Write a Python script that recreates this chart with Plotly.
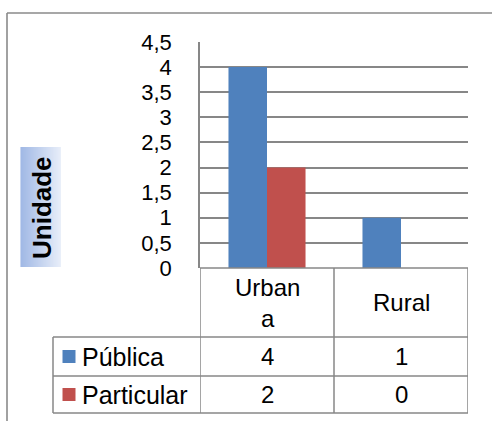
import plotly.graph_objects as go

# ---- data ----
categories = ["Urbana", "Rural"]
category_labels = ["Urban<br>a", "Rural"]
series_names = ["Pública", "Particular"]
publica = [4, 1]
particular = [2, 0]
series_values = [publica, particular]
series_colors = ["#4F81BD", "#C0504D"]
y_title = "Unidade"

W, H = 492, 421
FONT = "Arial, Liberation Sans, sans-serif"
FS = 24
GRID = "#878787"


def px(x):
    return x / W


def py(y):
    return 1 - y / H


fig = go.Figure()
for name, vals, col in zip(series_names, series_values, series_colors):
    fig.add_trace(go.Bar(x=categories, y=vals, name=name, marker_color=col,
                         marker_line_width=0, showlegend=False))

shapes = []
annotations = []

# outer frame (top and left edges)
shapes.append(dict(type="line", xref="paper", yref="paper", x0=px(7), x1=1, y0=py(13), y1=py(13),
                   line=dict(color="#8a8a8a", width=1.6)))
shapes.append(dict(type="line", xref="paper", yref="paper", x0=px(7), x1=px(7), y0=py(13), y1=0,
                   line=dict(color="#8a8a8a", width=1.6)))

# y title box with gradient (stripes)
bx0, bx1, by0, by1 = 20.5, 60.5, 147, 267
n = 40
c0 = (150, 176, 226)
c1 = (228, 235, 248)
for i in range(n):
    t = i / (n - 1)
    c = tuple(int(round(c0[k] + (c1[k] - c0[k]) * t)) for k in range(3))
    xa = bx0 + (bx1 - bx0) * i / n
    xb = bx0 + (bx1 - bx0) * (i + 1) / n + 0.3
    shapes.append(dict(type="rect", xref="paper", yref="paper", x0=px(xa), x1=px(xb),
                       y0=py(by1), y1=py(by0), line=dict(width=0),
                       fillcolor="rgb(%d,%d,%d)" % c, layer="below"))
annotations.append(dict(text="<b>%s</b>" % y_title, xref="paper", yref="paper", x=px(42), y=py(208),
                        textangle=-90, showarrow=False, font=dict(family=FONT, size=26, color="black"),
                        xanchor="center", yanchor="middle"))

# ---- data table ----
row_lines = [268, 337, 376, 413]
tl = dict(color=GRID, width=1.5)
# horizontal lines
shapes.append(dict(type="line", xref="x", yref="paper", x0=-0.5, x1=len(categories) - 0.5,
                   y0=py(row_lines[0]), y1=py(row_lines[0]), line=tl))
for yy in row_lines[1:]:
    shapes.append(dict(type="line", xref="paper", yref="paper", x0=px(53), x1=px(468),
                       y0=py(yy), y1=py(yy), line=tl))
# vertical lines
for i in range(len(categories) + 1):
    shapes.append(dict(type="line", xref="x", yref="paper", x0=i - 0.5, x1=i - 0.5,
                       y0=py(row_lines[0]), y1=py(row_lines[-1]), line=tl))
shapes.append(dict(type="line", xref="paper", yref="paper", x0=px(53), x1=px(53),
                   y0=py(row_lines[1]), y1=py(row_lines[-1]), line=tl))

# category labels
for cat, lab in zip(categories, category_labels):
    annotations.append(dict(text=lab, xref="x", yref="paper", x=cat,
                            y=py((row_lines[0] + row_lines[1]) / 2), showarrow=False,
                            font=dict(family=FONT, size=FS, color="black"),
                            xanchor="center", yanchor="middle"))
# series rows
for r, (name, vals, col) in enumerate(zip(series_names, series_values, series_colors)):
    yc = (row_lines[r + 1] + row_lines[r + 2]) / 2
    shapes.append(dict(type="rect", xref="paper", yref="paper", x0=px(62.5), x1=px(75.5),
                       y0=py(yc + 6.5), y1=py(yc - 6.5), fillcolor=col, line=dict(width=0)))
    annotations.append(dict(text=name, xref="paper", yref="paper", x=px(80), y=py(yc),
                            showarrow=False, font=dict(family=FONT, size=25, color="black"),
                            xanchor="left", yanchor="middle"))
    for cat, v in zip(categories, vals):
        annotations.append(dict(text=str(v), xref="x", yref="paper", x=cat, y=py(yc),
                                showarrow=False, font=dict(family=FONT, size=FS, color="black"),
                                xanchor="center", yanchor="middle"))

fig.update_layout(
    width=W, height=H,
    margin=dict(l=0, r=0, t=0, b=0, pad=0, autoexpand=False),
    paper_bgcolor="white", plot_bgcolor="white",
    separators=",.",
    barmode="group", bargap=0.425, bargroupgap=0,
    showlegend=False,
    shapes=shapes, annotations=annotations,
    xaxis=dict(domain=[px(200), px(468)], type="category", range=[-0.5, 1.5], automargin=False,
               showticklabels=False, showgrid=False, zeroline=False, showline=False, ticks=""),
    yaxis=dict(domain=[py(268), py(42)], range=[0, 4.5], dtick=0.5, tick0=0, automargin=False,
               showgrid=True, gridcolor=GRID, gridwidth=1.5, zeroline=False,
               showline=True, linecolor=GRID, linewidth=1.5, ticks="",
               ticklabelstandoff=22,
               tickfont=dict(family=FONT, size=22, color="black")),
)

fig.write_html("out.html", config={"displayModeBar": False},
               post_script="document.body.style.margin='0';document.body.style.overflow='hidden';")
